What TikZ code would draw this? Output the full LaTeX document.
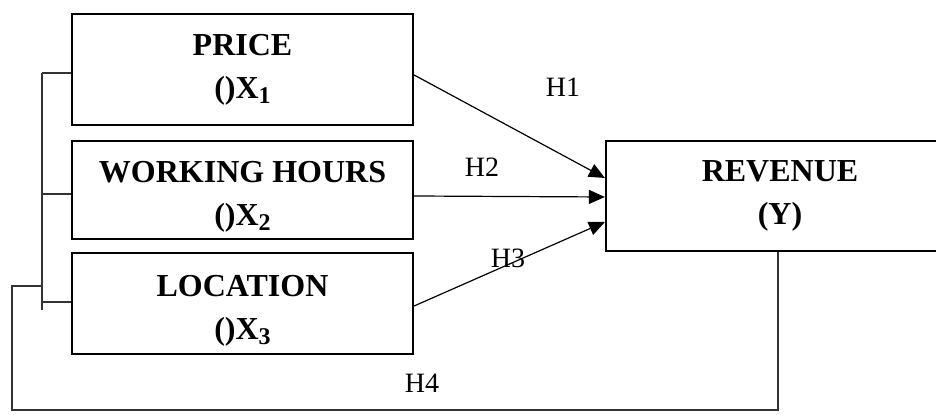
\documentclass[tikz,border=0pt]{standalone}
\usepackage{fontspec}
\setmainfont{Liberation Serif}
\usepackage{tikz}
\usetikzlibrary{arrows.meta,positioning,calc}
\tikzset{
  var/.style={draw, line width=1.1pt, align=center, minimum width=170.5pt,
    font=\fontsize{16}{21.5}\selectfont\bfseries},
  hyp/.style={font=\fontsize{14}{16}\selectfont},
  link/.style={line width=0.6pt, -{Triangle[length=8pt,width=7pt]}},
  wire/.style={line width=0.6pt, black!80}
}
\newcommand{\idx}[1]{\raisebox{-2.5pt}{\fontsize{12}{12}\selectfont #1}}

\begin{document}
\begin{tikzpicture}[x=0.5pt, y=-0.5pt]
\useasboundingbox (0,0) rectangle (936,415);

% Variables
\node[var, minimum height=55.5pt] (price) at (242.5,69.5) {PRICE\\()X\idx{1}};
\node[var, minimum height=49pt, inner ysep=1pt] (work) at (242.5,190) {\rule{0pt}{17.5pt}WORKING HOURS\\()X\idx{2}};
\node[var, minimum height=50.5pt, inner ysep=1pt] (loc) at (242.5,303.5) {\rule{0pt}{17.5pt}LOCATION\\()X\idx{3}};
\node[var, minimum height=55pt, minimum width=174pt] (rev) at (780,196) {REVENUE\\(Y)};

% Hipotesis
\draw[link] ($(price.east)+(0,5.5)$) -- ($(rev.west)+(0,-18)$);
\draw[link] ($(work.east)+(0,6)$) -- ($(rev.west)+(0,1)$);
\draw[link] ($(loc.east)+(0,2.5)$) -- ($(rev.west)+(0,26)$);

\node[hyp] (h1) at (563,87) {H1};
\node[hyp] (h2) at (482,167) {H2};
\node[hyp] (h3) at (508,258) {H3};
\node[hyp] (h4) at (422,383) {H4};

% Corchete
\coordinate (btop) at (42,73);
\coordinate (bbot) at (42,310);
\coordinate (t1) at (42,73);
\coordinate (t2) at (42,194);
\coordinate (t3) at (42,302);
\draw[wire] (btop) -- (bbot);
\draw[wire] (price.west |- t1) -- (t1);
\draw[wire] (work.west |- t2) -- (t2);
\draw[wire] (loc.west |- t3) -- (t3);

% Retorno
\coordinate (fb) at (42,286);
\coordinate (corner) at (12,410);
\draw[wire] ($(rev.south)+(-2,0)$) |- (corner) |- (fb);

\end{tikzpicture}
\end{document}
